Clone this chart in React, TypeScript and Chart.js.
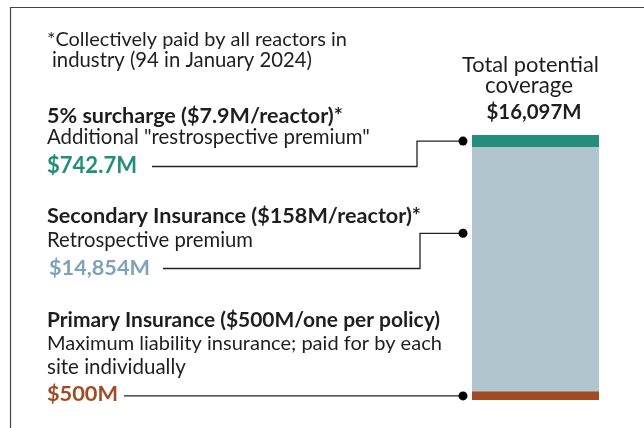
import React, { useEffect, useRef } from "react";
import { Chart, registerables } from "chart.js";

Chart.register(...registerables);

const categories = ["Total potential coverage"];
const segmentNames = ["Primary Insurance", "Secondary Insurance", "5% surcharge"];
const primaryValues = [500];
const secondaryValues = [14854];
const surchargeValues = [742.7];
const totalLabel = "$16,097M";
const valueLabels = ["$500M", "$14,854M", "$742.7M"];

const FONT = "Lato, 'Open Sans', sans-serif";
const TEXT = "#1e1e1e";
const C_PRIMARY = "#a14b21";
const C_SECONDARY = "#b1c5cf";
const C_SURCHARGE = "#238e7b";
const C_SECONDARY_TEXT = "#7ea2b8";

const annotationPlugin = {
  id: "annotations",
  afterDraw(chart: any) {
    const ctx = chart.ctx as CanvasRenderingContext2D;
    const y = chart.scales.y;
    const area = chart.chartArea;
    const total = primaryValues[0] + secondaryValues[0] + surchargeValues[0];
    ctx.save();

    // text fitted to a width
    const fit = (text: string, x: number, yy: number, w: number, bold: boolean, color: string, center = false) => {
      const weight = bold ? "bold " : "";
      ctx.font = `${weight}20px ${FONT}`;
      const m = ctx.measureText(text).width;
      const size = (20 * w) / m;
      ctx.font = `${weight}${size.toFixed(2)}px ${FONT}`;
      ctx.fillStyle = color;
      ctx.textAlign = center ? "center" : "left";
      ctx.textBaseline = "middle";
      ctx.fillText(text, x, yy);
    };

    // frame
    ctx.strokeStyle = "#444";
    ctx.lineWidth = 1.2;
    ctx.beginPath();
    ctx.moveTo(10.5, 428);
    ctx.lineTo(10.5, 7.5);
    ctx.lineTo(644, 7.5);
    ctx.stroke();

    fit("*Collectively paid by all reactors in", 47, 40, 300, false, TEXT);
    fit("industry (94 in January 2024)", 52, 60, 260, false, TEXT);

    fit("Total potential", 530.5, 65, 137, false, TEXT, true);
    fit("coverage", 529, 86, 88, false, TEXT, true);
    fit(totalLabel, 534, 112, 95, true, TEXT, true);

    const dotX = area.left - 9;
    const drawConnector = (x0: number, yText: number, xBend: number | null, yDot: number) => {
      ctx.strokeStyle = "#222";
      ctx.lineWidth = 1.3;
      ctx.beginPath();
      ctx.moveTo(x0, yText);
      if (xBend !== null) {
        ctx.lineTo(xBend, yText);
        ctx.lineTo(xBend, yDot);
      }
      ctx.lineTo(dotX, yDot);
      ctx.stroke();
      ctx.fillStyle = "#000";
      ctx.beginPath();
      ctx.arc(dotX, yDot, 4.5, 0, Math.PI * 2);
      ctx.fill();
    };

    // surcharge
    fit("5% surcharge ($7.9M/reactor)*", 47, 116, 296, true, TEXT);
    fit('Additional "restrospective premium"', 47, 137, 323, false, TEXT);
    fit(valueLabels[2], 47, 166, 90, true, C_SURCHARGE);
    const ySur = y.getPixelForValue(total - surchargeValues[0] / 2);
    drawConnector(152, 166.5, 417, ySur);

    // secondary
    fit("Secondary Insurance ($158M/reactor)*", 47, 216, 374, true, TEXT);
    fit("Retrospective premium", 47, 240, 206, false, TEXT);
    fit(valueLabels[1], 49, 268, 101, true, C_SECONDARY_TEXT);
    const ySec = y.getPixelForValue(primaryValues[0] + secondaryValues[0] * 0.648);
    drawConnector(163, 268.5, 420, ySec);

    // primary
    fit("Primary Insurance ($500M/one per policy)", 47, 320, 393, true, TEXT);
    fit("Maximum liability insurance; paid for by each", 47, 344, 395, false, TEXT);
    fit("site individually", 47, 367, 139, false, TEXT);
    fit(valueLabels[0], 47, 394, 71, true, C_PRIMARY);
    const yPri = y.getPixelForValue(primaryValues[0] / 2);
    drawConnector(124, yPri, null, yPri);

    ctx.restore();
  },
};

export default function App() {
  const ref = useRef<HTMLCanvasElement | null>(null);
  useEffect(() => {
    if (!ref.current) return;
    const total = primaryValues[0] + secondaryValues[0] + surchargeValues[0];
    const chart = new Chart(ref.current, {
      type: "bar",
      data: {
        labels: categories,
        datasets: [
          { label: segmentNames[0], data: primaryValues, backgroundColor: C_PRIMARY },
          { label: segmentNames[1], data: secondaryValues, backgroundColor: C_SECONDARY },
          { label: segmentNames[2], data: surchargeValues, backgroundColor: C_SURCHARGE },
        ],
      },
      options: {
        responsive: false,
        animation: false,
        events: [],
        layout: { padding: { top: 135, bottom: 28, left: 472, right: 45 } },
        datasets: { bar: { barPercentage: 1, categoryPercentage: 1, borderWidth: 0 } },
        plugins: { legend: { display: false }, tooltip: { enabled: false } },
        scales: {
          x: { stacked: true, display: false },
          y: { stacked: true, display: false, min: 0, max: total },
        },
      },
      plugins: [annotationPlugin],
    });
    return () => chart.destroy();
  }, []);
  return (
    <div style={{ position: "absolute", left: 0, top: 0, width: 644, height: 428, background: "#fff" }}>
      <canvas ref={ref} width={644} height={428} style={{ width: 644, height: 428 }} />
    </div>
  );
}
